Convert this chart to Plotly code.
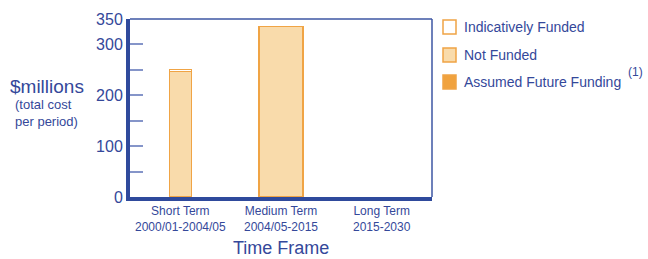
import plotly.graph_objects as go

categories = ["Short Term<br>2000/01-2004/05", "Medium Term<br>2004/05-2015", "Long Term<br>2015-2030"]
assumed_future = [0, 0, 0]
not_funded = [247, 335, 0]
indicatively_funded = [4, 0, 0]
bar_widths = [0.22, 0.44, 0.44]
y_tickvals = [0, 50, 100, 150, 200, 250, 300, 350]
y_ticktext = ["0", "", "100", "", "200", "", "300", "350"]
legend_labels = ["Indicatively Funded", "Not Funded", "Assumed Future Funding"]

BLUE = "#2f4a9c"
TXT = "#34489a"
EDGE = "#f0a445"
FILL = "#f9dbab"
DARK = "#f0a23e"

L, R, T, B = 130, 432, 19, 197


def px(x):
    return (x - L) / (R - L)


def py(y):
    return (B - y) / (B - T)


def lw(vals):
    return [1.5 if v else 0 for v in vals]


fig = go.Figure()
fig.add_bar(x=categories, y=assumed_future, width=bar_widths,
            marker=dict(color=DARK, line=dict(color=EDGE, width=lw(assumed_future))), name=legend_labels[2])
fig.add_bar(x=categories, y=not_funded, width=bar_widths,
            marker=dict(color=FILL, line=dict(color=EDGE, width=lw(not_funded))), name=legend_labels[1])
fig.add_bar(x=categories, y=indicatively_funded, width=bar_widths,
            marker=dict(color="white", line=dict(color=EDGE, width=lw(indicatively_funded))), name=legend_labels[0])

fig.update_layout(
    barmode="stack",
    width=648, height=259,
    margin=dict(l=L, r=648 - R, t=T, b=259 - B, autoexpand=False),
    paper_bgcolor="white", plot_bgcolor="white",
    showlegend=False,
    font=dict(family="Liberation Sans, Arial", color=TXT),
    xaxis=dict(showline=True, linecolor=BLUE, linewidth=4, showgrid=False, ticks="",
               tickfont=dict(size=12, color=TXT), range=[-0.5, 2.5], automargin=False),
    yaxis=dict(range=[0, 350], showline=True, linecolor=BLUE, linewidth=4, showgrid=False,
               tickvals=y_tickvals, ticktext=y_ticktext, ticks="inside", ticklen=13,
               tickwidth=2, tickcolor="#8595c9", tickfont=dict(size=16, color=TXT),
               zeroline=False, automargin=False),
)

# top and right thin borders
fig.add_shape(type="line", xref="paper", yref="paper", x0=0, x1=1, y0=1, y1=1, line=dict(color="#3c56a3", width=1.5))
fig.add_shape(type="line", xref="paper", yref="paper", x0=1, x1=1, y0=0, y1=1, line=dict(color="#3c56a3", width=1.5))

# y title
fig.add_annotation(text="$millions", xref="paper", yref="paper", x=px(47), y=py(86), xanchor="center", yanchor="middle",
                   showarrow=False, font=dict(size=19, color=TXT))
fig.add_annotation(text="(total cost<br>per period)", xref="paper", yref="paper", x=px(13), y=py(113), xanchor="left",
                   yanchor="middle", align="left", showarrow=False, font=dict(size=13, color=TXT))
# x title
fig.add_annotation(text="Time Frame", xref="paper", yref="paper", x=0.5, y=py(248), xanchor="center", yanchor="middle",
                   showarrow=False, font=dict(size=18, color=TXT))

# legend
leg_fills = ["white", FILL, DARK]
leg_y = [27, 55, 82]
for lab, fc, yy in zip(legend_labels, leg_fills, leg_y):
    fig.add_shape(type="rect", xref="paper", yref="paper",
                  x0=px(443), x1=px(456), y0=py(yy + 7), y1=py(yy - 7),
                  line=dict(color=EDGE, width=1.5), fillcolor=fc)
    fig.add_annotation(text=lab, xref="paper", yref="paper", x=px(462), y=py(yy),
                       xanchor="left", yanchor="middle", showarrow=False, font=dict(size=14, color=TXT))
fig.add_annotation(text="(1)", xref="paper", yref="paper", x=px(626), y=py(72),
                   xanchor="left", yanchor="middle", showarrow=False, font=dict(size=12, color=TXT))

fig.write_html("out.html", config={"displayModeBar": False},
               post_script="document.body.style.margin='0';")
